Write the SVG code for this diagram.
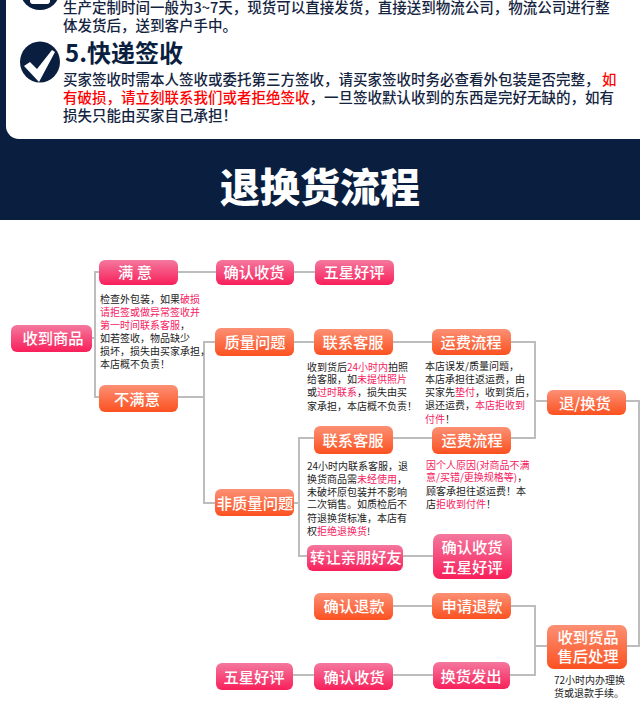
<svg xmlns="http://www.w3.org/2000/svg" width="640" height="728" viewBox="0 0 640 728">
<defs>
<linearGradient id="pink" x1="0" y1="0" x2="0" y2="1"><stop offset="0" stop-color="#f4789e"/><stop offset="1" stop-color="#f81f5a"/></linearGradient>
<linearGradient id="orange" x1="0" y1="0" x2="0" y2="1"><stop offset="0" stop-color="#fc9074"/><stop offset="1" stop-color="#fb5120"/></linearGradient>
</defs>
<style>
text{font-family:"Noto Sans CJK SC","Noto Sans",sans-serif}
.c{fill:none;stroke:#bdbdbd;stroke-width:2}
.p{fill:url(#pink)}.o{fill:url(#orange)}
.b{fill:#fff;font-size:15.3px;font-weight:500;text-anchor:middle}
.h{fill:#14243f;font-size:14.5px;font-weight:500}
.s{fill:#222;font-size:10px}
.r{fill:#f5225f}.rr{fill:#f00}
</style>
<rect width="640" height="728" fill="#fff"/>
<g id="header">
<rect width="640" height="220" fill="#0a1f3f"/>
<rect x="6" y="-20" width="650" height="159" rx="13" fill="#fff"/>
<circle cx="40" cy="-10" r="20" fill="#0a1f3f"/>
<rect x="30" y="-6" width="20" height="10" rx="3" fill="#fff"/>
<ellipse cx="40" cy="62" rx="20" ry="20.500" fill="#0a1f3f"/>
<path d="M24 66 L30 62 L37 69 L52 50 L55 52 L39 82 Z" fill="#fff"/>
<text class="h" x="63" y="13">生产定制时间一般为3~7天，现货可以直接发货，直接送到物流公司，物流公司进行整</text>
<text class="h" x="63" y="30.500">体发货后，送到客户手中。</text>
<text x="65" y="62" font-size="24" font-weight="700" fill="#0a1f3f">5.快递签收</text>
<text class="h" x="63" y="85">买家签收时需本人签收或委托第三方签收，请买家签收时务必查看外包装是否完整，<tspan class="rr" x="602">如</tspan></text>
<text class="h" x="63" y="103"><tspan class="rr">有破损，请立刻联系我们或者拒绝签收</tspan>，一旦签收默认收到的东西是完好无缺的，如有</text>
<text class="h" x="63" y="121">损失只能由买家自己承担！</text>
<text x="320" y="202" font-size="40" font-weight="900" fill="#fff" text-anchor="middle">退换货流程</text>
</g>
<g id="connectors">
<path class="c" d="M92 338H95M178 272H216M99 272H95V397H99M294 272H315"/>
<path class="c" d="M178 397H204M215 342H204V503H215M294 342H314M393 342H432M511 342H535V438H511M432 438H393M314 438H299V556H307M294 503H299M403 556H433"/>
<path class="c" d="M535 401H547M626 401H639V646H627M547 646H535V606H511M535 646V675H510M432 606H393M433 675H393M314 675H293"/>
</g>
<g id="n1"><rect class="p" x="11" y="325" width="81" height="27" rx="6"/><text class="b" x="53" y="344">收到商品</text></g>
<g id="n2"><rect class="p" x="99" y="260" width="79" height="25" rx="6"/><text class="b" x="135" y="278">满 意</text></g>
<g id="n3"><rect class="p" x="216" y="260" width="78" height="25" rx="6"/><text class="b" x="254" y="278">确认收货</text></g>
<g id="n4"><rect class="p" x="315" y="260" width="79" height="25" rx="6"/><text class="b" x="354" y="278">五星好评</text></g>
<g id="n5"><rect class="o" x="99" y="385" width="79" height="27" rx="6"/><text class="b" x="137" y="405">不满意</text></g>
<g id="n6"><rect class="o" x="215" y="328" width="79" height="28" rx="6"/><text class="b" x="255" y="348">质量问题</text></g>
<g id="n7"><rect class="o" x="314" y="329" width="79" height="26" rx="6"/><text class="b" x="353" y="348">联系客服</text></g>
<g id="n8"><rect class="o" x="432" y="329" width="79" height="26" rx="6"/><text class="b" x="471" y="348">运费流程</text></g>
<g id="n9"><rect class="o" x="547" y="390" width="79" height="25" rx="6"/><text class="b" x="585" y="409">退/换货</text></g>
<g id="n10"><rect class="o" x="314" y="426" width="79" height="28" rx="6"/><text class="b" x="353" y="446">联系客服</text></g>
<g id="n11"><rect class="o" x="432" y="427" width="79" height="27" rx="6"/><text class="b" x="472" y="446">运费流程</text></g>
<g id="n12"><rect class="o" x="215" y="489" width="79" height="27" rx="6"/><text class="b" x="255" y="509">非质量问题</text></g>
<g id="n13"><rect class="p" x="307" y="545" width="96" height="26" rx="6"/><text class="b" x="356" y="563">转让亲朋好友</text></g>
<g id="n14"><rect class="p" x="433" y="534" width="79" height="45" rx="7"/><text class="b" x="472" y="553">确认收货</text><text class="b" x="472" y="573">五星好评</text></g>
<g id="n15"><rect class="o" x="314" y="593" width="79" height="27" rx="6"/><text class="b" x="354" y="612">确认退款</text></g>
<g id="n16"><rect class="o" x="432" y="593" width="79" height="26" rx="6"/><text class="b" x="472" y="612">申请退款</text></g>
<g id="n17"><rect class="o" x="547" y="625" width="80" height="44" rx="7"/><text class="b" x="588" y="643">收到货品</text><text class="b" x="588" y="662">售后处理</text></g>
<g id="n18"><rect class="p" x="216" y="663" width="77" height="27" rx="6"/><text class="b" x="254" y="683">五星好评</text></g>
<g id="n19"><rect class="p" x="314" y="663" width="79" height="27" rx="6"/><text class="b" x="354" y="683">确认收货</text></g>
<g id="n20"><rect class="p" x="433" y="662" width="77" height="27" rx="6"/><text class="b" x="471" y="682">换货发出</text></g>
<g id="notes">
<text class="s" x="100" y="302.500">检查外包装，如果<tspan class="r">破损</tspan></text>
<text class="s r" x="100" y="315.500">请拒签或做异常签收并</text>
<text class="s" x="100" y="328.500"><tspan class="r">第一时间联系客服</tspan>，</text>
<text class="s" x="100" y="341.500">如若签收，物品缺少</text>
<text class="s" x="100" y="354.500">损坏，损失由买家承担，</text>
<text class="s" x="100" y="368">本店概不负责！</text>
<text class="s" x="307" y="370.500">收到货后<tspan class="r">24小时内</tspan>拍照</text>
<text class="s" x="307" y="383">给客服，如<tspan class="r">未提供照片</tspan></text>
<text class="s" x="307" y="396">或<tspan class="r">过时联系</tspan>，损失由买</text>
<text class="s" x="307" y="409.500">家承担，本店概不负责！</text>
<text class="s" x="425" y="370">本店误发/质量问题，</text>
<text class="s" x="425" y="383">本店承担往返运费，由</text>
<text class="s" x="425" y="396">买家先<tspan class="r">垫付</tspan>，收到货后，</text>
<text class="s" x="425" y="409">退还运费，<tspan class="r">本店拒收到</tspan></text>
<text class="s" x="425" y="422.500"><tspan class="r">付件</tspan>！</text>
<text class="s" x="307" y="469.500">24小时内联系客服，退</text>
<text class="s" x="307" y="482.500">换货商品需<tspan class="r">未经使用</tspan>，</text>
<text class="s" x="307" y="495.500">未破坏原包装并不影响</text>
<text class="s" x="307" y="508">二次销售。如质检后不</text>
<text class="s" x="307" y="521.500">符退换货标准，本店有</text>
<text class="s" x="307" y="534.500">权<tspan class="r">拒绝退换货</tspan>!</text>
<text class="s r" x="426" y="468.500">因个人原因(对商品不满</text>
<text class="s" x="426" y="481"><tspan class="r">意/买错/更换规格等)</tspan>，</text>
<text class="s" x="426" y="494.500">顾客承担往返运费！本</text>
<text class="s" x="426" y="507.500">店<tspan class="r">拒收到付件</tspan>！</text>
<text class="s" x="554" y="683.500">72小时内办理换</text>
<text class="s" x="554" y="696.500">货或退款手续。</text>
</g>
</svg>
